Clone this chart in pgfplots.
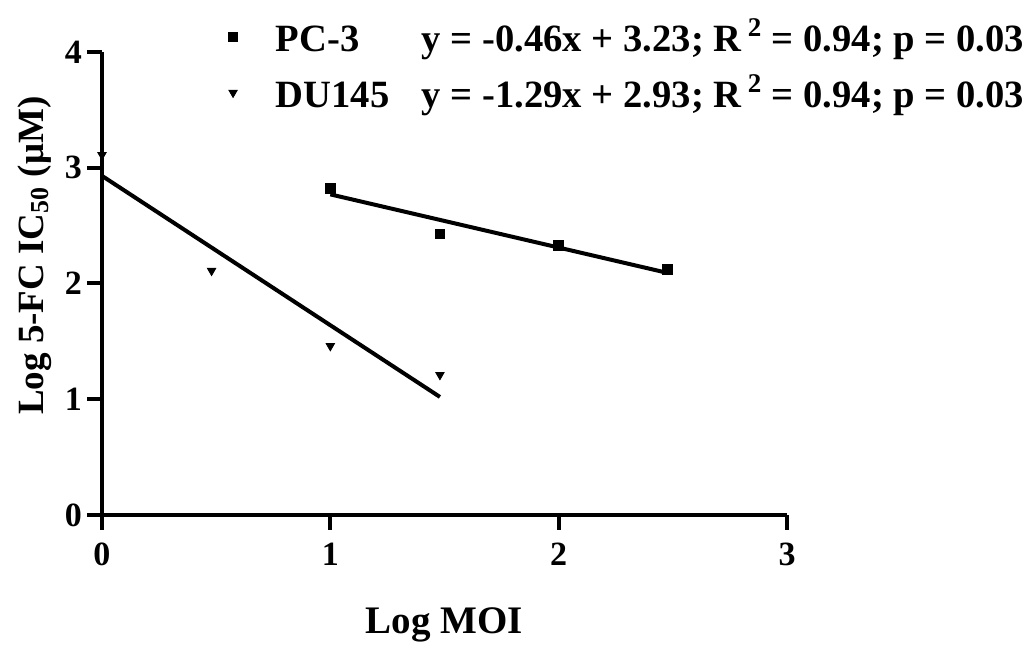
\documentclass[border=0pt]{standalone}
\usepackage{fontspec}
\setmainfont{Liberation Serif}
\usepackage{pgfplots}
\pgfplotsset{compat=1.18}
\begin{document}
\begin{tikzpicture}
\begin{axis}[
  scale only axis, width=342.5pt, height=231.5pt,
  xmin=0, xmax=3, ymin=0, ymax=4,
  axis lines=left, axis line style={-, line width=2pt},
  xtick={0,1,2,3}, ytick={0,1,2,3,4},
  tick align=outside, major tick length=7.5pt,
  tick style={line width=2pt, black},
  /pgf/number format/assume math mode=true,
  ticklabel style={font=\bfseries\fontsize{17}{19}\selectfont},
  xticklabel style={yshift=-3pt},
  yticklabel style={xshift=1pt},
  ylabel={Log 5-FC IC\textsubscript{50} (μM)},
  label style={font=\bfseries\fontsize{18.5}{21}\selectfont},
  xlabel={\fontsize{19.5}{22}\selectfont Log MOI},
  xlabel style={yshift=-14pt},
  ylabel style={at={(ticklabel cs:0.56)}},
  clip=false,
  legend cell align=left,
  legend style={draw=none, fill=none, at={(axis description cs:0.175,1.09)}, anchor=north west,
    font=\bfseries\fontsize{19.3}{22}\selectfont, row sep=6pt},
]
\addplot[only marks, mark=square*, mark size=2.4pt, black]
  coordinates {(1,2.82) (1.48,2.43) (2,2.33) (2.475,2.12)};
\addlegendentry{\hspace*{17pt}\makebox[73pt][l]{PC-3}y = -0.46x + 3.23; R\,\textsuperscript{2} = 0.94; p = 0.03}
\addplot[only marks, mark=triangle*, mark options={rotate=180}, mark size=2.4pt, black]
  coordinates {(0,3.11) (0.48,2.11) (1,1.46) (1.48,1.21)};
\addlegendentry{\hspace*{17pt}\makebox[73pt][l]{DU145}y = -1.29x + 2.93; R\,\textsuperscript{2} = 0.94; p = 0.03}
% regression lines
\addplot[forget plot, black, line width=2pt] coordinates {(1,2.77) (2.48,2.09)};
\addplot[forget plot, black, line width=2pt] coordinates {(0,2.93) (1.48,1.02)};
% page frame, same margins as the reference
\path (axis description cs:-0.1489,-0.2937) rectangle (axis description cs:1.3635,1.1123);
\end{axis}
\end{tikzpicture}
\end{document}
